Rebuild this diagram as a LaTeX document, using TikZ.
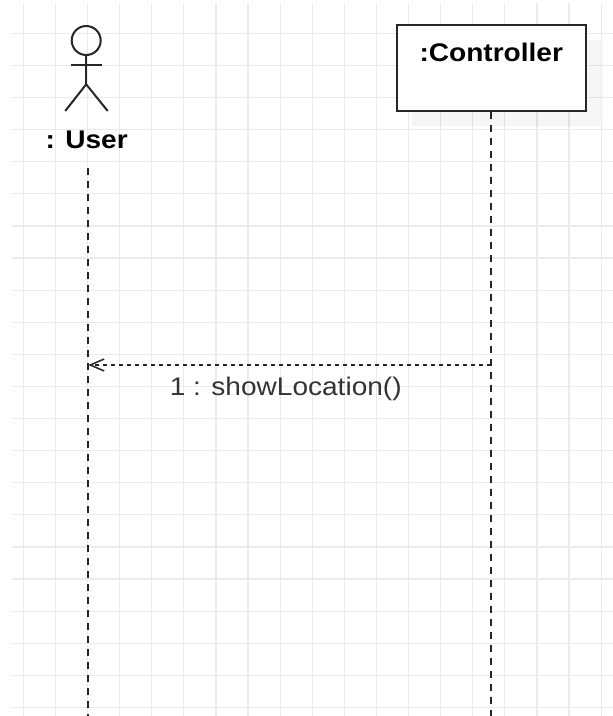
\documentclass[tikz,border=0pt]{standalone}
\usepackage{fontspec}
\setmainfont{Liberation Sans}[FakeStretch=1.1]
\usetikzlibrary{arrows.meta, positioning, shadows}
\definecolor{gridgrey}{HTML}{EBEBEB}
\definecolor{inkgrey}{HTML}{262626}
\definecolor{labelgrey}{HTML}{333333}

\begin{document}
\begin{tikzpicture}[x=1pt, y=-1pt,
    gridline/.style={draw=gridgrey, line width=1.2pt},
    stick/.style={draw=inkgrey, line width=2pt},
    head/.style={circle, stick, minimum size=29pt, inner sep=0pt},
    objbox/.style={rectangle, draw=inkgrey, line width=2pt, fill=white, minimum width=189pt, minimum height=86pt, inner sep=0pt},
    objname/.style={inner sep=0pt, font=\fontsize{25.5}{30}\selectfont\bfseries, text=black},
    lifeline/.style={draw=inkgrey, line width=2pt, dash pattern=on 7pt off 6pt},
    reply/.style={draw=inkgrey, line width=1.3pt, dash pattern=on 4.5pt off 3.5pt, -{Straight Barb[length=14pt, width=12pt, line width=1.5pt]}},
    msglabel/.style={inner sep=0pt, font=\fontsize{25.5}{30}\selectfont, text=labelgrey}]
  \useasboundingbox (0,0) rectangle (613,716);
  \foreach \i in {0,...,18}
    \draw[gridline] (23.3+32.1*\i,3) -- (23.3+32.1*\i,716);
  \foreach \j in {0,...,21}
    \draw[gridline] (11.5,33.3+32.1*\j) -- (613,33.3+32.1*\j);

  \node[head] (userhead) at (86.2,40.5) {};
  \coordinate[below=9.3pt of userhead.south] (shoulder);
  \coordinate[below=28.3pt of userhead.south] (hip);
  \draw[stick] (userhead.south) -- (hip);
  \draw[stick] ([xshift=-15.5pt]shoulder) -- ([xshift=15.5pt]shoulder);
  \draw[stick] ([xshift=-21pt, yshift=-26.7pt]hip) -- (hip) -- ([xshift=21.5pt, yshift=-26.7pt]hip);
  \node[objname, anchor=base] (username) at (86.7,148.3) {: User};

  \node[objbox, drop shadow={shadow xshift=15pt, shadow yshift=-15pt, fill=black, opacity=0.035}] (ctrl) at (491.3,67.5) {};
  \node[objname, below=19pt of ctrl.north] (ctrlname) {:Controller};

  \coordinate (userlife) at (88.3,168);
  \coordinate (userend) at (88.3,716);
  \draw[lifeline] (userlife) -- (userend);
  \draw[lifeline] (ctrl.south) -- (ctrl.south |- userend);

  \path (userlife) ++(0,197) coordinate (m1user);
  \draw[reply] (ctrl.south |- m1user) -- node[msglabel, pos=0.51, below=11.5pt] (m1label) {1 : showLocation()} (m1user);
\end{tikzpicture}
\end{document}
